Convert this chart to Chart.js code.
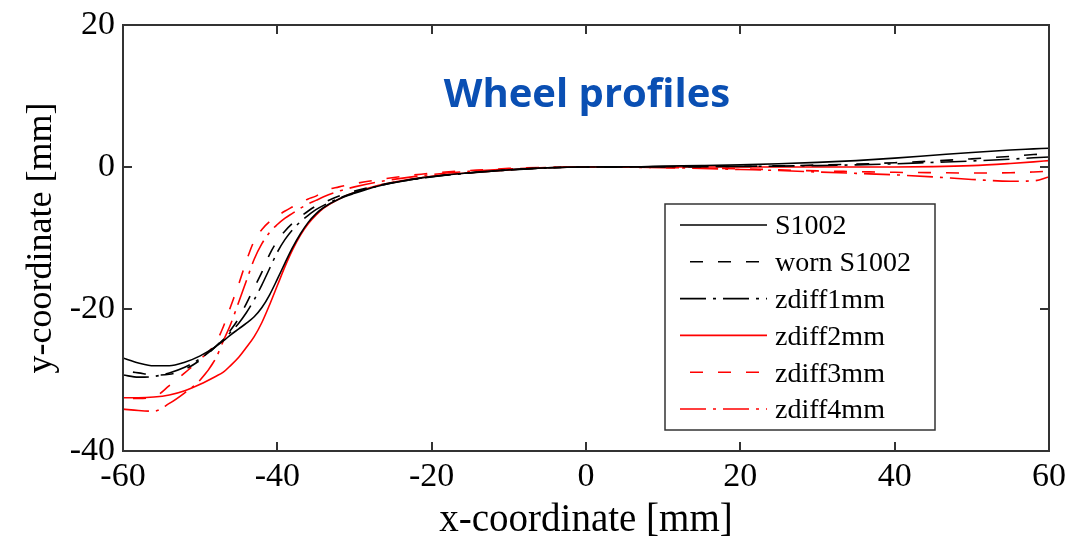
<!DOCTYPE html>
<html>
<head>
<meta charset="utf-8">
<script src="https://cdn.jsdelivr.net/npm/chart.js@4.4.1/dist/chart.umd.min.js"></script>
<style>
  html, body { margin: 0; padding: 0; background: #fff; }
  #wrap { width: 1079px; height: 536px; position: relative; }
</style>
</head>
<body>
<div id="wrap"><canvas id="c" width="1079" height="536"></canvas></div>
<script>
// ---- data ----
const chartTitle = 'Wheel profiles';
const xTitle = 'x-coordinate [mm]';
const yTitle = 'y-coordinate [mm]';
const seriesNames = ['S1002', 'worn S1002', 'zdiff1mm', 'zdiff2mm', 'zdiff3mm', 'zdiff4mm'];

const xMm = [-60,-58,-56,-54,-52,-50,-48,-47,-46,-45,-44,-43,-42,-41,-40,-39,-38,-37,-36,-35,-34,-32,-30,-27,-24,-20,-15,-10,-5,0,5,10,15,20,25,30,35,40,45,50,55,58,60];

const s1002 =      [-26.9,-27.6,-28.0,-28.0,-27.5,-26.6,-25.3,-24.5,-23.6,-22.8,-22.0,-21.1,-19.8,-18.0,-15.8,-13.5,-11.3,-9.4,-7.8,-6.6,-5.7,-4.5,-3.7,-2.7,-2.0,-1.35,-0.8,-0.4,-0.12,0,0.02,0.12,0.2,0.3,0.45,0.65,0.9,1.25,1.65,2.05,2.4,2.55,2.65];
const wornS1002 =  [-28.7,-29.0,-29.3,-29.2,-28.5,-27.2,-25.3,-24.2,-22.9,-21.3,-19.2,-17.0,-14.8,-12.3,-10.4,-9.0,-7.9,-7.0,-6.2,-5.5,-5.0,-4.1,-3.4,-2.6,-2.0,-1.35,-0.8,-0.4,-0.12,0,0,0.03,0.06,0.1,0.17,0.27,0.4,0.6,0.85,1.15,1.5,1.75,1.9];
const zdiff1mm =   [-29.3,-29.6,-29.5,-29.0,-28.2,-27.0,-25.3,-24.3,-23.2,-22.0,-20.5,-18.7,-16.6,-14.3,-12.0,-10.2,-8.8,-7.7,-6.8,-6.0,-5.4,-4.4,-3.6,-2.7,-2.05,-1.4,-0.85,-0.42,-0.13,0,0,0.02,0.05,0.08,0.13,0.2,0.3,0.45,0.65,0.85,1.1,1.3,1.4];
const zdiff2mm =   [-32.5,-32.5,-32.4,-32.1,-31.5,-30.6,-29.5,-28.9,-27.9,-26.8,-25.4,-23.9,-21.9,-19.4,-16.7,-14.0,-11.6,-9.6,-8.0,-6.8,-5.8,-4.5,-3.6,-2.6,-1.95,-1.3,-0.8,-0.4,-0.1,0,0,0,0,0,0,0,0,0,0.05,0.2,0.5,0.72,0.9];
const zdiff3mm =   [-32.6,-32.6,-32.4,-30.8,-29.0,-27.1,-24.8,-22.5,-19.5,-16.5,-13.2,-10.4,-8.8,-7.7,-6.9,-6.2,-5.6,-5.0,-4.5,-4.1,-3.4,-2.8,-2.35,-1.8,-1.35,-0.85,-0.5,-0.2,-0.05,0,-0.03,-0.08,-0.15,-0.25,-0.4,-0.55,-0.65,-0.75,-0.8,-0.85,-0.8,-0.7,-0.6];
const zdiff4mm =   [-34.1,-34.3,-34.4,-33.3,-31.8,-30.0,-27.0,-24.5,-22.0,-19.0,-16.0,-13.0,-10.8,-9.2,-8.1,-7.2,-6.5,-5.8,-5.2,-4.7,-4.2,-3.4,-2.8,-2.1,-1.6,-1.05,-0.6,-0.28,-0.07,0,-0.03,-0.1,-0.2,-0.35,-0.5,-0.7,-0.9,-1.1,-1.4,-1.75,-2.0,-1.95,-1.4];

const xTicks = [-60,-40,-20,0,20,40,60];
const yTicks = [-40,-20,0,20];

// ---- styles ----
const seriesValues = [s1002, wornS1002, zdiff1mm, zdiff2mm, zdiff3mm, zdiff4mm];
const seriesColors = ['#000000','#000000','#000000','#ff0000','#ff0000','#ff0000'];
const DASH = [13, 15];
const DASHDOT = [26, 7, 3, 7];
const seriesDash = [[], DASH, DASHDOT, [], DASH, DASHDOT];
const seriesDashOffset = [0, 18, 0, 0, 18, 0];

const serif = "'Liberation Serif', 'Times New Roman', serif";

const datasets = seriesNames.map((name, i) => ({
  label: name,
  data: xMm.map((xv, k) => ({ x: xv, y: seriesValues[i][k] })),
  borderColor: seriesColors[i],
  backgroundColor: seriesColors[i],
  borderWidth: 1.6,
  borderDash: seriesDash[i],
  borderDashOffset: seriesDashOffset[i],
  pointRadius: 0,
  showLine: true,
  cubicInterpolationMode: 'monotone',
  fill: false
}));

const TICK = 9;
const decorPlugin = {
  id: 'decor',
  afterDatasetsDraw(chart) {
    const { ctx, chartArea: a, scales: { x, y } } = chart;
    ctx.save();
    // frame + inward ticks
    ctx.strokeStyle = '#333';
    ctx.lineWidth = 2;
    ctx.setLineDash([]);
    ctx.strokeRect(a.left, a.top, a.right - a.left, a.bottom - a.top);
    ctx.beginPath();
    xTicks.forEach(v => {
      const px = Math.round(x.getPixelForValue(v));
      ctx.moveTo(px, a.bottom); ctx.lineTo(px, a.bottom - TICK);
      ctx.moveTo(px, a.top); ctx.lineTo(px, a.top + TICK);
    });
    yTicks.forEach(v => {
      const py = Math.round(y.getPixelForValue(v));
      ctx.moveTo(a.left, py); ctx.lineTo(a.left + TICK, py);
      ctx.moveTo(a.right, py); ctx.lineTo(a.right - TICK, py);
    });
    ctx.stroke();

    // title inside the plot
    ctx.fillStyle = '#0a4fb3';
    ctx.font = "bold 40px 'Open Sans', 'Noto Sans', sans-serif";
    ctx.textAlign = 'center';
    ctx.textBaseline = 'alphabetic';
    ctx.fillText(chartTitle, (a.left + a.right) / 2 + 1, a.top + 82);

    // legend box
    const bx = a.left + 542, by = a.top + 179, bw = 270, bh = 226;
    ctx.fillStyle = '#fff';
    ctx.fillRect(bx, by, bw, bh);
    ctx.strokeStyle = '#333';
    ctx.lineWidth = 1.5;
    ctx.strokeRect(bx, by, bw, bh);
    ctx.font = "28px " + serif;
    ctx.textAlign = 'left';
    ctx.textBaseline = 'middle';
    seriesNames.forEach((name, i) => {
      const ry = by + 21 + i * 36.8;
      ctx.beginPath();
      ctx.strokeStyle = seriesColors[i];
      ctx.lineWidth = 1.6;
      ctx.setLineDash(seriesDash[i]);
      ctx.lineDashOffset = seriesDashOffset[i];
      ctx.moveTo(bx + 15, ry);
      ctx.lineTo(bx + 102, ry);
      ctx.stroke();
      ctx.setLineDash([]);
      ctx.fillStyle = '#000';
      ctx.fillText(name, bx + 110, ry + 2);
    });
    ctx.restore();
  }
};

new Chart(document.getElementById('c'), {
  type: 'scatter',
  data: { datasets },
  options: {
    responsive: false,
    animation: false,
    events: [],
    layout: { padding: { top: 20, right: 30, left: 0, bottom: 0 } },
    plugins: { legend: { display: false }, tooltip: { enabled: false }, title: { display: false } },
    scales: {
      x: {
        type: 'linear', min: -60, max: 60,
        afterBuildTicks: s => { s.ticks = xTicks.map(v => ({ value: v })); },
        afterFit: s => { s.height = 85; },
        grid: { display: false, drawTicks: false },
        border: { display: false },
        ticks: { color: '#000', font: { family: serif, size: 34, lineHeight: 1 }, padding: 9, maxRotation: 0, autoSkip: false },
        title: { display: true, text: xTitle, color: '#000', font: { family: serif, size: 39, lineHeight: 0.8 }, padding: { top: 0, bottom: 0 } }
      },
      y: {
        type: 'linear', min: -40, max: 20,
        afterBuildTicks: s => { s.ticks = yTicks.map(v => ({ value: v })); },
        afterFit: s => { s.width = 123; },
        grid: { display: false, drawTicks: false },
        border: { display: false },
        ticks: { color: '#000', font: { family: serif, size: 34, lineHeight: 1 }, padding: 8, autoSkip: false },
        title: { display: true, text: yTitle, color: '#000', font: { family: serif, size: 36, lineHeight: 1 }, padding: { top: 24, bottom: 0 } }
      }
    }
  },
  plugins: [decorPlugin]
});
</script>
</body>
</html>
